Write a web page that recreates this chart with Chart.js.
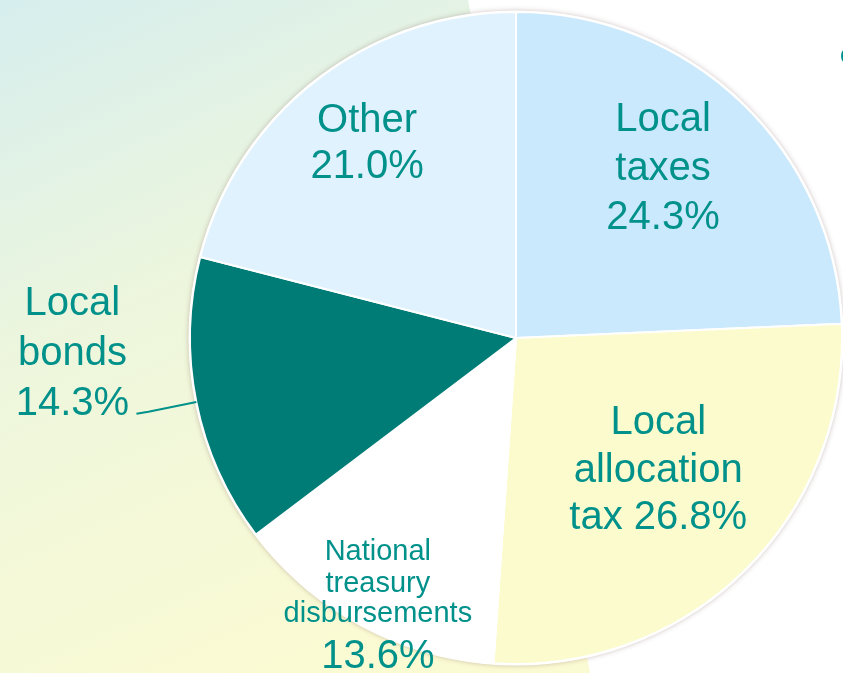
<!DOCTYPE html>
<html>
<head>
<meta charset="utf-8">
<script src="https://cdn.jsdelivr.net/npm/chart.js@4.4.0/dist/chart.umd.min.js"></script>
<style>
  html, body { margin: 0; padding: 0; background: #ffffff; overflow: hidden; }
  #wrap { width: 843px; height: 673px; }
</style>
</head>
<body>
<div id="wrap"><canvas id="myChart" width="843" height="673"></canvas></div>
<script>
// data (clockwise from 12 o'clock)
const categories = ['Local taxes', 'Local allocation tax', 'National treasury disbursements', 'Local bonds', 'Other'];
const shares = [24.3, 26.8, 13.6, 14.3, 21.0];
const labelLines = [
    ['Local', 'taxes', '{v}'],
    ['Local', 'allocation', 'tax {v}'],
    ['National', 'treasury', 'disbursements', '{v}'],
    ['Local', 'bonds', '{v}'],
    ['Other', '{v}']
];

// styles
const sliceColors = ['#cbe9fc', '#fbfbcd', '#ffffff', '#007c77', '#e0f2fd'];
const textColor = '#00918b';
const fontFamily = '"Liberation Sans", Arial, sans-serif';
// label anchor (first baseline): fraction of radius + angle shift in degrees; null = outside label
const labelPos = [{ r: 0.778, da: -8.3 }, { r: 0.527, da: -11.6 }, { r: 0.801, da: 3.5 }, null, { r: 0.779, da: 1.9 }];
const lineSizes = [[40, 40, 40], [40, 40, 40], [29, 29, 29, 40], [40, 40, 40], [40, 40]];
const lineSteps = [[0, 49, 49], [0, 47.5, 47.5], [0, 32, 30, 46], [0, 50, 50], [0, 46]];

const backgroundPanel = {
    id: 'backgroundPanel',
    beforeDraw(chart) {
        const ctx = chart.ctx;
        ctx.save();
        const g = ctx.createLinearGradient(0, 0, 300, 673);
        g.addColorStop(0, '#d6eeee');
        g.addColorStop(0.45, '#edf6dd');
        g.addColorStop(1, '#fbfbd3');
        ctx.fillStyle = g;
        ctx.beginPath();
        ctx.moveTo(0, 0);
        ctx.lineTo(468, 0);
        ctx.lineTo(590, 673);
        ctx.lineTo(0, 673);
        ctx.closePath();
        ctx.fill();
        // small clipped glyph at the right edge
        ctx.fillStyle = textColor;
        ctx.font = '25px ' + fontFamily;
        ctx.textAlign = 'left';
        ctx.fillText('c', 840, 63);
        ctx.restore();
    },
    beforeDatasetsDraw(chart) {
        const arc = chart.getDatasetMeta(0).data[0];
        if (!arc) return;
        const ctx = chart.ctx;
        ctx.save();
        ctx.shadowColor = 'rgba(120, 80, 80, 0.35)';
        ctx.shadowBlur = 5;
        ctx.fillStyle = '#ffffff';
        ctx.beginPath();
        ctx.arc(arc.x, arc.y, arc.outerRadius + 1.5, 0, Math.PI * 2);
        ctx.fill();
        ctx.restore();
    }
};

const sliceLabels = {
    id: 'sliceLabels',
    afterDatasetsDraw(chart) {
        const ctx = chart.ctx;
        const meta = chart.getDatasetMeta(0);
        ctx.save();
        ctx.fillStyle = textColor;
        ctx.textAlign = 'center';
        ctx.textBaseline = 'alphabetic';
        meta.data.forEach((arc, i) => {
            const { x, y, startAngle, endAngle, outerRadius } = arc.getProps(['x', 'y', 'startAngle', 'endAngle', 'outerRadius'], true);
            const mid = (startAngle + endAngle) / 2;
            const lines = labelLines[i].map(s => s.replace('{v}', shares[i].toFixed(1) + '%'));
            let px, py;
            if (labelPos[i]) {
                const a = mid + labelPos[i].da * Math.PI / 180;
                px = x + Math.cos(a) * outerRadius * labelPos[i].r;
                py = y + Math.sin(a) * outerRadius * labelPos[i].r;
            } else {
                // outside label with leader line
                const ex = x + Math.cos(mid) * outerRadius;
                const ey = y + Math.sin(mid) * outerRadius;
                const bx = x + Math.cos(mid) * outerRadius * 1.15;
                const by = y + Math.sin(mid) * outerRadius * 1.15;
                ctx.strokeStyle = textColor;
                ctx.lineWidth = 2;
                ctx.beginPath();
                ctx.moveTo(ex, ey);
                ctx.lineTo(bx, by);
                ctx.lineTo(bx - 12, by + 2);
                ctx.stroke();
                const total = lineSteps[i].reduce((s, v) => s + v, 0);
                px = bx - 12 - 64;
                py = by + 3 - total;
            }
            let cy = py;
            lines.forEach((txt, k) => {
                cy += lineSteps[i][k];
                ctx.font = lineSizes[i][k] + 'px ' + fontFamily;
                ctx.fillText(txt, px, cy);
            });
        });
        ctx.restore();
    }
};

const canvas = document.getElementById('myChart');
const myChart = new Chart(canvas.getContext('2d'), {
    type: 'pie',
    data: {
        labels: categories,
        datasets: [{
            data: shares,
            backgroundColor: sliceColors,
            borderColor: '#ffffff',
            borderWidth: 2
        }]
    },
    options: {
        responsive: false,
        animation: false,
        layout: {
            padding: { left: 189, top: 10, bottom: 7, right: 0 }
        },
        plugins: {
            legend: { display: false },
            tooltip: { enabled: false }
        }
    },
    plugins: [backgroundPanel, sliceLabels]
});
</script>
</body>
</html>
